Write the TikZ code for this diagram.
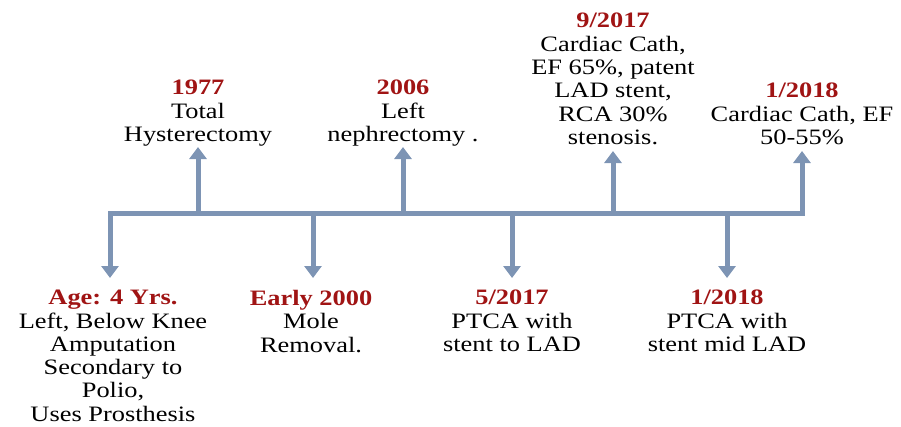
\documentclass[tikz,border=0pt]{standalone}
\usepackage{fontspec}
\setmainfont{Liberation Serif}[FakeStretch=1.2]
\usetikzlibrary{arrows.meta}
\definecolor{barblue}{RGB}{125,148,180}
\definecolor{datered}{RGB}{160,20,20}
\newcommand\datelbl[1]{\textcolor{datered}{\textbf{#1}}}
\tikzset{
  bar/.style={draw=barblue, line width=5pt, line join=miter},
  tip/.style={-{Triangle[width=17pt,length=12pt]}},
  lbl/.style={align=center, inner sep=0pt, anchor=north, text=black,
    font=\fontsize{22}{23.3}\selectfont}
}
\begin{document}
\begin{tikzpicture}[x=1pt,y=-1pt]
\useasboundingbox (0,0) rectangle (901,426);
% bar corners and junctions
\coordinate (cL) at (110,213);
\coordinate (cR) at (802,213);
\coordinate (j1) at (198,213);
\coordinate (j2) at (313,213);
\coordinate (j3) at (403,213);
\coordinate (j4) at (512,213);
\coordinate (j5) at (613,213);
\coordinate (j6) at (727,213);
% arrow tips
\coordinate (d1) at (110,278);
\coordinate (d2) at (313,278);
\coordinate (d3) at (512,278);
\coordinate (d4) at (727,278);
\coordinate (u1) at (198,147);
\coordinate (u2) at (403,147);
\coordinate (u3) at (613,151);
\coordinate (u4) at (802,151);
% main line
\draw[bar, {Triangle[width=17pt,length=12pt]}-{Triangle[width=17pt,length=12pt]}] (d1) -- (cL) -- (cR) -- (u4);
\draw[bar, tip] (j1) -- (u1);
\draw[bar, tip] (j3) -- (u2);
\draw[bar, tip] (j5) -- (u3);
\draw[bar, tip] (j2) -- (d2);
\draw[bar, tip] (j4) -- (d3);
\draw[bar, tip] (j6) -- (d4);
% labels
\node[lbl] (t1977) at (198,80) {\datelbl{1977}\\Total\\Hysterectomy};
\node[lbl] (t2006) at (403,80) {\datelbl{2006}\\Left\\nephrectomy .};
\node[lbl] (t917) at (613,13) {\datelbl{9/2017}\\Cardiac Cath,\\EF 65\%, patent\\LAD stent,\\RCA 30\%\\stenosis.};
\node[lbl] (t118a) at (802,83) {\datelbl{1/2018}\\Cardiac Cath, EF\\50-55\%};
\node[lbl] (tage) at (113,290) {\datelbl{Age: 4 Yrs.}\\Left, Below Knee\\Amputation\\Secondary to\\Polio,\\Uses Prosthesis};
\node[lbl] (tearly) at (311,290) {\datelbl{Early 2000}\\Mole\\Removal.};
\node[lbl] (t517) at (512,290) {\datelbl{5/2017}\\PTCA with\\stent to LAD};
\node[lbl] (t118b) at (727,290) {\datelbl{1/2018}\\PTCA with\\stent mid LAD};
\end{tikzpicture}
\end{document}
